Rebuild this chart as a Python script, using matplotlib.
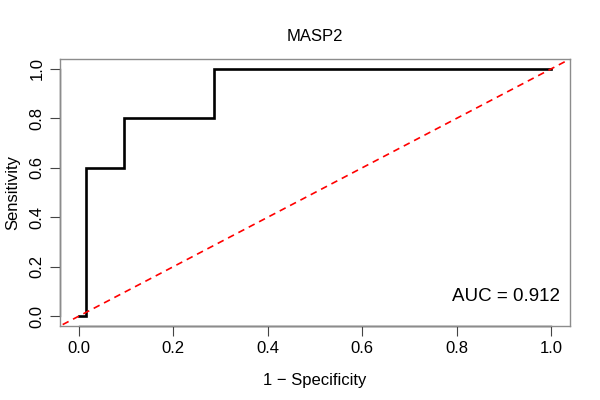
import matplotlib.pyplot as plt

plt.rcParams['font.family'] = ['Liberation Sans', 'DejaVu Sans']

# ROC curve points (1 - specificity, sensitivity)
fpr = [0.0, 0.016, 0.016, 0.095, 0.095, 0.286, 0.286, 1.0]
tpr = [0.0, 0.0, 0.6, 0.6, 0.8, 0.8, 1.0, 1.0]
auc = 0.912
ticks = [0.0, 0.2, 0.4, 0.6, 0.8, 1.0]

fig = plt.figure(figsize=(6, 4), dpi=100)
ax = fig.add_axes([0.1, 0.185, 0.85, 0.6675])

ax.plot(fpr, tpr, color='black', linewidth=1.9, solid_joinstyle='miter')
ax.plot([-0.1, 1.1], [-0.1, 1.1], color='red', linestyle=(0, (4, 3)), linewidth=1.2)

ax.set_xlim(-0.04, 1.04)
ax.set_ylim(-0.04, 1.04)

for s in ax.spines.values():
    s.set_color('#8c8c8c')
    s.set_linewidth(1.0)

# R-style axis lines over the tick range
ax.plot([0, 1], [-0.04, -0.04], color='black', linewidth=1.0, clip_on=False)
ax.plot([-0.04, -0.04], [0, 1], color='#555555', linewidth=1.0, clip_on=False)

ax.set_xticks(ticks)
ax.set_yticks(ticks)
ax.set_xticklabels(['%.1f' % t for t in ticks])
ax.set_yticklabels(['%.1f' % t for t in ticks], rotation=90, va='center')
ax.tick_params(direction='out', length=7, width=0.8, labelsize=12, pad=4, color='#444444')

ax.text(1.018, 0.045, 'AUC = %.3f' % auc, ha='right', va='bottom', fontsize=13.5)

ax.set_title('MASP2', fontsize=12, pad=13)
ax.set_xlabel('1 \u2212 Specificity', fontsize=12, labelpad=12)
ax.set_ylabel('Sensitivity', fontsize=12, labelpad=7)

fig.savefig('out.png', dpi=100)
